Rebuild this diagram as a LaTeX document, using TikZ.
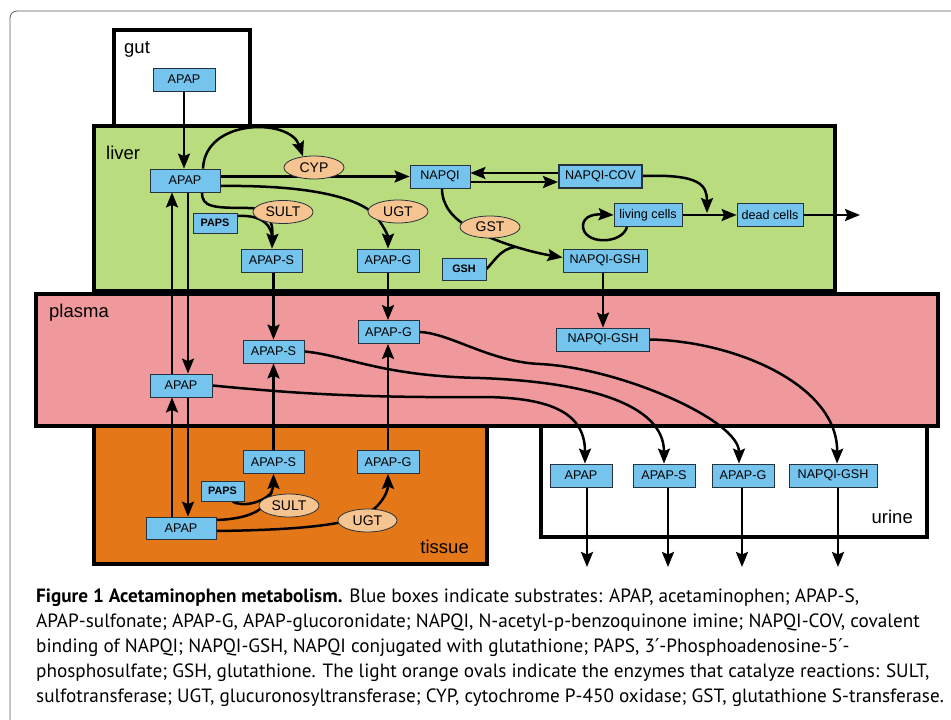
\documentclass[tikz,border=0pt]{standalone}
\usepackage{fontspec}
\setmainfont{Liberation Sans}
\newfontfamily\captionfont{PT Sans}
\newfontfamily\primefont{DejaVu Sans}
\usepackage{tikz}
\usetikzlibrary{arrows.meta,shapes.geometric,positioning}
\usepackage{xcolor}
\definecolor{apblue}{RGB}{116,196,238}
\definecolor{aporange}{RGB}{246,196,144}
\definecolor{apline}{RGB}{40,50,60}
\definecolor{livergreen}{RGB}{185,220,127}
\definecolor{plasmapink}{RGB}{240,153,157}
\definecolor{tissueorange}{RGB}{228,120,24}
\definecolor{framegray}{RGB}{90,90,90}
\tikzstyle{substrate} = [rectangle, minimum width=62pt, minimum height=23pt, inner sep=0pt, text centered, draw=apline, fill=apblue, line width=0.8pt, font=\fontsize{12.6}{14}\selectfont]
\tikzstyle{cofactor} = [substrate, minimum height=20pt, font=\fontsize{10.8}{12}\selectfont\bfseries]
\tikzstyle{enzyme} = [ellipse, minimum width=60pt, minimum height=23pt, inner sep=0pt, draw=apline, fill=aporange, line width=0.8pt, font=\fontsize{14}{15}\selectfont]
\tikzstyle{organ} = [draw=black, line width=4pt]
\tikzstyle{organlabel} = [inner sep=0pt, font=\fontsize{18.5}{20}\selectfont]
\tikzstyle{arrow} = [line width=2.5pt, -{Stealth[length=15pt, width=12pt, inset=2.5pt]}]
\tikzstyle{link} = [line width=2.5pt]
\pgfdeclarelayer{organs}
\pgfdeclarelayer{links}
\pgfsetlayers{organs,links,main}

\begin{document}
\begin{tikzpicture}[x=1pt, y=-1pt]
\useasboundingbox (0,0) rectangle (951,720);
\draw[framegray, line width=0.8pt, rounded corners=7pt] (10,720) -- (10,11) -- (951,11);

% Compartments
\begin{pgfonlayer}{organs}
\draw[organ, fill=white] (114,30) rectangle (250,130);
\draw[organ, fill=livergreen] (94,126) rectangle (835,291);
\draw[organ, fill=tissueorange] (94,420) rectangle (487,564);
\draw[organ, fill=white] (541,420) rectangle (927,537);
\draw[organ, fill=plasmapink] (36,294) rectangle (938,426);
\end{pgfonlayer}
\node (gutlabel) [organlabel, anchor=base west] at (124,53) {gut};
\node (liverlabel) [organlabel, anchor=base west] at (106,159) {liver};
\node (plasmalabel) [organlabel, anchor=base west] at (49,317) {plasma};
\node (tissuelabel) [organlabel, anchor=base east] at (469,553) {tissue};
\node (urinelabel) [organlabel, anchor=base east] at (913,523) {urine};

% Gut
\node (gutapap) [substrate] at (184,79.5) {APAP};

% Liver
\node (liverapap) [substrate, minimum width=70pt] at (185,180.5) {APAP};
\node (cyp) [enzyme] at (314,167.5) {CYP};
\node (napqi) [substrate, minimum width=60pt] at (440,176.5) {NAPQI};
\node (napqicov) [substrate, minimum width=83pt, line width=2pt] at (600.5,176) {NAPQI-COV};
\node (living) [substrate, minimum width=68pt] at (648,215) {living cells};
\node (dead) [substrate, minimum width=66pt] at (770,215) {dead cells};
\node (gst) [enzyme, minimum height=22pt] at (490,227) {GST};
\node (livgsh) [substrate, minimum width=84pt] at (605,260.5) {NAPQI-GSH};
\node (gsh) [cofactor, minimum width=44pt, minimum height=22pt] at (464,269) {GSH};
\node (lpaps) [cofactor, minimum width=44pt] at (215,223) {PAPS};
\node (lsult) [enzyme] at (283,212) {SULT};
\node (lugt) [enzyme] at (398,211.5) {UGT};
\node (lapaps) [substrate, minimum width=61pt] at (271.5,260.5) {APAP-S};
\node (lapapg) [substrate] at (388,260.5) {APAP-G};

% Plasma
\node (papapg) [substrate, minimum width=61pt] at (388.5,332) {APAP-G};
\node (papaps) [substrate, minimum width=61pt] at (273.5,351.5) {APAP-S};
\node (papap) [substrate] at (181,385.5) {APAP};
\node (pnapgsh) [substrate, minimum width=93pt] at (603,339.5) {NAPQI-GSH};

% Tissue
\node (tapaps) [substrate, minimum width=61pt] at (273.5,462) {APAP-S};
\node (tapapg) [substrate] at (388,462) {APAP-G};
\node (tpaps) [cofactor, minimum width=43pt] at (222.5,491) {PAPS};
\node (tsult) [enzyme] at (289,505.5) {SULT};
\node (tugt) [enzyme, minimum width=59pt] at (367.5,520.5) {UGT};
\node (tapap) [substrate, minimum width=70pt, minimum height=22pt] at (181,528) {APAP};

% Urine
\node (uapap) [substrate] at (581,475.5) {APAP};
\node (uapaps) [substrate] at (664,475.5) {APAP-S};
\node (uapapg) [substrate] at (743,475.5) {APAP-G};
\node (unapgsh) [substrate, minimum width=88pt] at (833,475.5) {NAPQI-GSH};

% Free ends
\coordinate (lsjoin) at (272,236);
\coordinate (gshjoin) at (515,247);
\coordinate (covhit) at (707,213);
\coordinate (deadout) at (860,215);
\coordinate (tsjoin) at (272,492);
\coordinate (out1) at (587,567);
\coordinate (out2) at (668,567);
\coordinate (out3) at (742,567);
\coordinate (out4) at (838,567);

\begin{pgfonlayer}{links}
% Liver reactions
\draw[arrow] (gutapap.south) -- (gutapap.south |- liverapap.north);
\draw[arrow] ([xshift=18pt]liverapap.north) .. controls (205,118) and (290,118) .. (cyp.135);
\draw[arrow] (liverapap.east |- napqi.west) -- (napqi.west);
\draw[arrow] ([yshift=-5.5pt]liverapap.east) .. controls (300,185) and (355,195) .. (375,215) .. controls (383,225) and (388,235) .. (lapapg.north);
\draw[arrow] ([xshift=17pt]liverapap.south) .. controls (202,207) and (212,208) .. (250,208) .. controls (268,209) and (273,220) .. (lapaps.north -| lsjoin);
\draw[link] ([yshift=7pt]lpaps.east) .. controls (255,215) and (270,220) .. (lsjoin);
\draw[arrow] ([yshift=-5.5pt]napqi.east) -- ([yshift=-5.5pt]napqi.east -| napqicov.west);
\draw[arrow] ([yshift=3pt]napqicov.west) -- ([yshift=3pt]napqicov.west -| napqi.east);
\draw[arrow] ([xshift=2pt]napqi.south) .. controls (442,205) and (452,218) .. (470,228) .. controls (495,242) and (530,252) .. ([yshift=3pt]livgsh.west);
\draw[link] (gsh.east) .. controls (494,262) and (500,249) .. (gshjoin);
\draw[arrow] (napqicov.east) .. controls (700,174) and (707,185) .. (covhit);
\draw[arrow] (living.east) -- (dead.west);
\draw[arrow] ([xshift=-21pt]living.south) .. controls (622,245) and (582,245) .. (583,225) .. controls (584,216) and (594,214) .. (living.west);
\draw[arrow] (dead.east) -- (deadout);

% Liver to plasma
\draw[arrow] ([xshift=3pt]liverapap.south) -- ([xshift=7pt]papap.north);
\draw[arrow] ([xshift=-9pt]papap.north) -- ([xshift=-13pt]liverapap.south);
\draw[arrow] (lapaps.south -| papaps.north) -- (papaps.north);
\draw[arrow] (lapapg.south) -- (lapapg.south |- papapg.north);
\draw[arrow] (livgsh.south -| pnapgsh.north) -- (pnapgsh.north);

% Plasma and tissue
\draw[arrow] ([xshift=7pt]papap.south) -- ([xshift=7pt]tapap.north);
\draw[arrow] ([xshift=-9pt]tapap.north) -- ([xshift=-9pt]papap.south);
\draw[arrow] (tapaps.north) -- (papaps.south);
\draw[arrow] (tapapg.north) -- (tapapg.north |- papapg.south);
\draw[arrow] ([yshift=8pt]tapap.east) .. controls (245,519) and (262,512) .. (268,500) .. controls (272,492) and (273.5,485) .. (tapaps.south);
\draw[link] ([xshift=10pt]tpaps.south) .. controls (240,507) and (262,504) .. (tsjoin);
\draw[arrow] ([yshift=-3pt]tapap.east) .. controls (290,530) and (350,526) .. (370,512) .. controls (384,502) and (388,490) .. (tapapg.south);

% Plasma to urine
\draw[arrow] (papap.east) .. controls (280,392) and (350,398) .. (480,397) .. controls (555,397) and (585,415) .. ([xshift=4pt]uapap.north);
\draw[arrow] (papaps.east) .. controls (345,355) and (380,376) .. (480,378) .. controls (590,382) and (664,405) .. (uapaps.north);
\draw[arrow] (papapg.east) .. controls (450,333) and (490,362) .. (540,364) .. controls (620,368) and (739,420) .. ([xshift=-4pt]uapapg.north);
\draw[arrow] (pnapgsh.east) .. controls (735,341) and (838,385) .. ([xshift=4pt]unapgsh.north);

% Excretion
\draw[arrow] (uapap.south -| out1) -- (out1);
\draw[arrow] (uapaps.south -| out2) -- (out2);
\draw[arrow] (uapapg.south -| out3) -- (out3);
\draw[arrow] (unapgsh.south -| out4) -- (out4);
\end{pgfonlayer}

% Caption
\node (caption) [anchor=north west, align=left, inner sep=0pt, font=\captionfont\fontsize{19.2}{25}\selectfont] at (36,589) {\textbf{Figure 1 Acetaminophen metabolism.} Blue boxes indicate substrates: APAP, acetaminophen; APAP-S,\\
APAP-sulfonate; APAP-G, APAP-glucoronidate; NAPQI, N-acetyl-p-benzoquinone imine; NAPQI-COV, covalent\\
binding of NAPQI; NAPQI-GSH, NAPQI conjugated with glutathione; PAPS, 3{\primefont ′}-Phosphoadenosine-5{\primefont ′}-\\
phosphosulfate; GSH, glutathione. The light orange ovals indicate the enzymes that catalyze reactions: SULT,\\
sulfotransferase; UGT, glucuronosyltransferase; CYP, cytochrome P-450 oxidase; GST, glutathione S-transferase.};
\end{tikzpicture}
\end{document}
